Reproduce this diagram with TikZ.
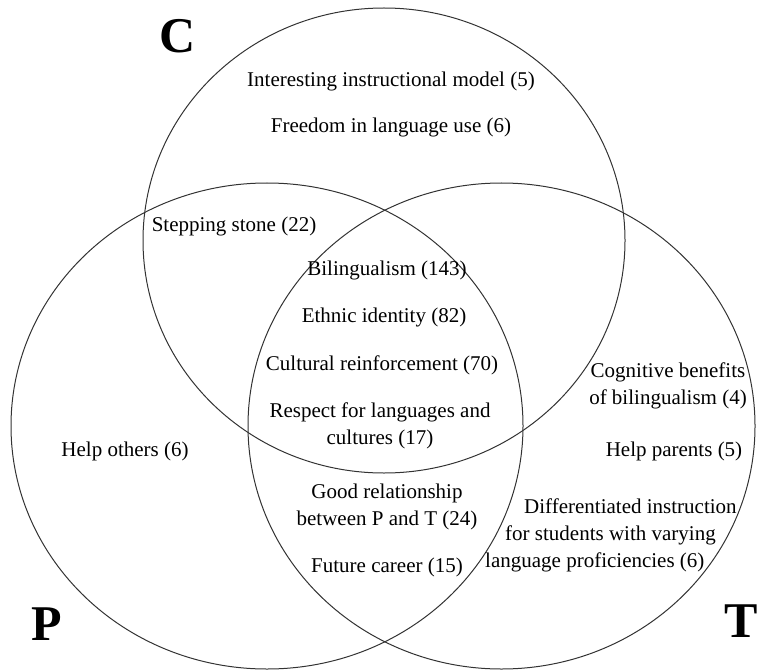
\documentclass[tikz,border=0pt]{standalone}
\usepackage{fontspec}
\setmainfont{Liberation Serif}
\begin{document}
\begin{tikzpicture}[x=1pt,y=-1pt,
    set/.style={line width=1pt, black!80},
    item/.style={inner sep=0pt, align=center, font=\fontsize{21}{27}\selectfont},
    setname/.style={inner sep=0pt, font=\fontsize{50}{50}\selectfont\bfseries}]
\useasboundingbox (0,0) rectangle (757,671);
% the three sets C, P, T
\foreach \cx/\cy/\rx/\ry in {384/240.5/241/232.5, 267/426/256/243, 501.5/426/253.5/243}
    \draw[set] (\cx,\cy) ellipse [x radius=\rx pt, y radius=\ry pt];
\node[setname] (C) at (178,36) {C};
\node[setname] (P) at (47,624) {P};
\node[setname] (T) at (741,621) {T};
% C only
\node[item] (model) at (391,81) {Interesting instructional model (5)};
\node[item] (freedom) at (391,127) {Freedom in language use (6)};
% C and P
\node[item] (stone) at (234,226) {Stepping stone (22)};
% all three
\node[item] (biling) at (387,270) {Bilingualism (143)};
\node[item] (ethnic) at (384,317) {Ethnic identity (82)};
\node[item] (cultural) at (382,365) {Cultural reinforcement (70)};
\node[item] (respect) at (380,426) {Respect for languages and\\cultures (17)};
% P only
\node[item] (helpo) at (125,451) {Help others (6)};
% T only
\node[item] (cognit) at (668,386) {Cognitive benefits\\of bilingualism (4)};
\node[item] (helpp) at (674,451) {Help parents (5)};
\node[item, align=left, anchor=west] (diffin) at (485,535)
    {\hspace*{39pt}Differentiated instruction\\\hspace*{20pt}for students with varying\\language proficiencies (6)};
% P and T
\node[item] (goodrel) at (387,507) {Good relationship\\between P and T (24)};
\node[item] (career) at (387,567) {Future career (15)};
\end{tikzpicture}
\end{document}
